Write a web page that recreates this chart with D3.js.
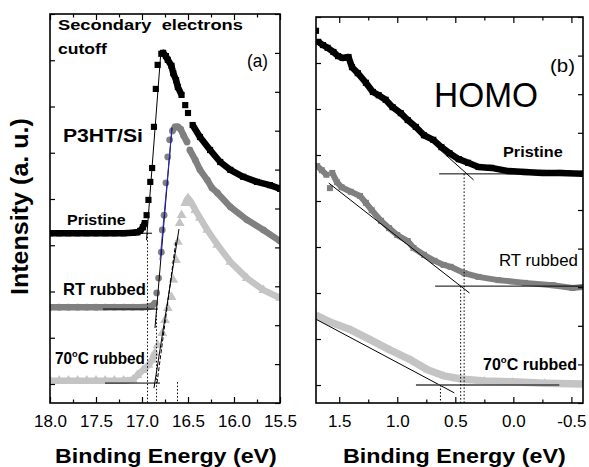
<!DOCTYPE html>
<html>
<head>
<meta charset="utf-8">
<script src="https://cdn.jsdelivr.net/npm/d3@7"></script>
<style>
  body { margin: 0; background: #fff; }
  svg { display: block; font-family: "Liberation Sans", Arial, Helvetica, sans-serif; }
</style>
</head>
<body>
<div id="chart"></div>
<script>
// ---- data: [binding energy (eV), intensity (a.u.)] ----

// panel (a) secondary electron cutoff
var pristineA = [[18.00,3.26],[17.90,3.26],[17.80,3.26],[17.70,3.26],[17.60,3.26],[17.50,3.26],[17.40,3.26],
  [17.30,3.26],[17.20,3.26],[17.10,3.27],[17.05,3.28],[17.02,3.31],[16.99,3.39],[16.97,3.48],[16.95,3.65],
  [16.93,3.98],[16.91,4.37],[16.89,4.67],[16.87,5.56],[16.85,6.38],[16.83,6.90],[16.79,7.14],[16.77,7.16],
  [16.74,7.09],[16.72,7.01],[16.68,6.88],[16.66,6.72],[16.63,6.57],[16.61,6.42],[16.57,6.25],[16.53,6.03],
  [16.50,5.86],[16.45,5.60],[16.37,5.34],[16.26,5.06],[16.15,4.80],[16.04,4.63],[15.90,4.48],[15.75,4.37],
  [15.61,4.30],[15.50,4.22]];

var rtA = [[18.00,1.66],[17.90,1.66],[17.80,1.66],[17.70,1.66],[17.60,1.66],[17.50,1.66],[17.40,1.66],
  [17.30,1.66],[17.20,1.66],[17.10,1.66],[17.00,1.66],[16.93,1.67],[16.89,1.69],[16.86,1.75],[16.84,1.97],
  [16.82,2.29],[16.79,2.85],[16.78,3.33],[16.76,3.65],[16.74,4.35],[16.72,4.91],[16.70,5.28],[16.67,5.47],
  [16.64,5.56],[16.61,5.56],[16.58,5.51],[16.55,5.38],[16.51,5.23],[16.48,5.06],[16.42,4.84],[16.37,4.63],
  [16.29,4.41],[16.24,4.24],[16.18,4.13],[16.04,3.83],[15.86,3.55],[15.68,3.33],[15.50,3.09]];

var hotA = [[18.00,0.07],[17.90,0.07],[17.80,0.07],[17.70,0.07],[17.60,0.07],[17.50,0.07],[17.40,0.07],
  [17.30,0.07],[17.20,0.07],[17.10,0.09],[17.05,0.19],[16.99,0.30],[16.93,0.41],[16.89,0.52],[16.86,0.67],
  [16.83,0.84],[16.78,1.10],[16.75,1.38],[16.72,1.64],[16.68,1.88],[16.66,2.25],[16.63,2.68],[16.61,3.07],
  [16.59,3.48],[16.57,3.65],[16.53,3.91],[16.50,4.02],[16.46,3.91],[16.42,3.76],[16.37,3.59],[16.29,3.33],
  [16.18,3.01],[16.04,2.64],[15.86,2.29],[15.68,2.03],[15.50,1.86]];

// panel (b) HOMO region
var pristineB = [[1.70,7.70],[1.68,7.46],[1.64,7.39],[1.60,7.33],[1.55,7.24],[1.51,7.15],[1.47,7.11],
  [1.42,7.13],[1.39,6.91],[1.34,6.78],[1.27,6.57],[1.21,6.37],[1.16,6.30],[1.10,6.20],[1.04,6.04],
  [0.97,5.91],[0.91,5.76],[0.84,5.61],[0.77,5.43],[0.69,5.33],[0.62,5.17],[0.55,5.04],[0.47,4.91],
  [0.39,4.83],[0.30,4.74],[0.19,4.72],[0.04,4.65],[-0.10,4.63],[-0.25,4.61],[-0.40,4.61],[-0.60,4.59]];

var rtB = [[1.69,4.76],[1.65,4.67],[1.61,4.57],[1.58,4.28],[1.56,4.61],[1.52,4.41],[1.48,4.30],[1.40,4.20],
  [1.32,4.11],[1.27,3.96],[1.22,3.80],[1.14,3.57],[1.07,3.41],[1.00,3.26],[0.91,3.13],[0.86,2.98],
  [0.77,2.83],[0.68,2.70],[0.60,2.61],[0.54,2.57],[0.42,2.43],[0.30,2.35],[0.13,2.28],[-0.10,2.22],
  [-0.34,2.17],[-0.51,2.11],[-0.60,2.13]];

var hotB = [[1.70,1.52],[1.58,1.37],[1.40,1.20],[1.23,0.98],[1.06,0.76],[0.88,0.54],[0.74,0.33],
  [0.60,0.20],[0.45,0.13],[0.25,0.09],[0.01,0.07],[-0.27,0.04],[-0.60,0.02]];

// linear extrapolations (tangent and background lines)
var fitsA = [[[16.951,3.11],[16.793,7.22]], [[17.043,3.26],[16.891,3.26]],
  [[16.859,1.21],[16.674,5.54]], [[17.424,1.62],[16.826,1.62]],
  [[16.870,-0.09],[16.598,3.35]], [[17.402,0.02],[16.804,0.02]]];
var blueFitA = [[16.804,2.68],[16.674,5.54]];
var dashFitA = [[16.837,0.02],[16.630,3.11]];
var onsetA = [[16.940,3.26],[16.842,1.56],[16.614,0.04]];

var fitsB = [[[0.630,5.11],[0.343,4.46]], [[0.639,4.59],[-0.60,4.59]],
  [[1.590,4.39],[0.378,2.00]], [[0.674,2.15],[-0.60,2.15]],
  [[1.70,1.43],[0.509,-0.17]]];
var baseFitB = [[0.839,0.00],[-0.396,0.00]];
var onsetB = [[0.424,4.59],[0.454,2.15],[0.628,0.00]];

var majorA = [18.0,17.5,17.0,16.5,16.0,15.5];
var minorA = [17.75,17.25,16.75,16.25,15.75];
var majorB = [1.5,1.0,0.5,0.0,-0.5];
var minorB = [1.25,0.75,0.25,-0.25];
var leftTicks = [0,1,2,3,4,5,6,7,8];
var rightTicks = [0,1,2,3,4,5,6,7,8,9,10];

// ---- chart ----
var svg = d3.select("#chart").append("svg")
  .attr("width", 589)
  .attr("height", 467);

var xA = d3.scaleLinear().domain([18.0, 15.5]).range([50, 280]);
var yA = d3.scaleLinear().domain([-0.411, 8]).range([403, 14]);
var yAR = d3.scaleLinear().domain([0, 10]).range([403, 14]);

var xB = d3.scaleLinear().domain([1.7, -0.6]).range([316, 583]);
var yB = d3.scaleLinear().domain([-0.391, 8]).range([403, 17]);
var yBR = d3.scaleLinear().domain([0, 10]).range([403, 17]);

var fmt = function(d) { return d.toFixed(1); };

function drawAxes(x, y, yR, major, minor) {
  var x0 = x.range()[0], x1 = x.range()[1];
  var yb = y.range()[0], yt = y.range()[1];
  var g = svg.append("g");

  g.append("g").attr("transform", `translate(0,${yb})`)
    .call(d3.axisBottom(x).tickValues(major).tickSize(-6).tickPadding(12.2).tickFormat(fmt));
  g.append("g").attr("transform", `translate(0,${yb})`)
    .call(d3.axisBottom(x).tickValues(minor).tickSize(-3.5).tickFormat(""));
  g.append("g").attr("transform", `translate(0,${yt})`)
    .call(d3.axisTop(x).tickValues(major).tickSize(-6).tickFormat(""));
  g.append("g").attr("transform", `translate(0,${yt})`)
    .call(d3.axisTop(x).tickValues(minor).tickSize(-3.5).tickFormat(""));
  g.append("g").attr("transform", `translate(${x0},0)`)
    .call(d3.axisLeft(y).tickValues(leftTicks).tickSize(-5).tickFormat(""));
  g.append("g").attr("transform", `translate(${x1},0)`)
    .call(d3.axisRight(yR).tickValues(rightTicks).tickSize(-5).tickFormat(""));

  g.selectAll(".domain").remove();
  g.selectAll(".tick line").attr("stroke", "#000").attr("stroke-width", 1.2);
  g.selectAll(".tick text").attr("font-size", 17).attr("fill", "#000")
    .attr("font-family", "'Liberation Sans', Arial, sans-serif");

  g.append("rect")
    .attr("x", x0).attr("y", yt)
    .attr("width", x1 - x0).attr("height", yb - yt)
    .attr("fill", "none").attr("stroke", "#000").attr("stroke-width", 1.6);
}

function clipFor(id, x, y) {
  svg.append("clipPath").attr("id", id).append("rect")
    .attr("x", x.range()[0]).attr("y", y.range()[1])
    .attr("width", x.range()[1] - x.range()[0])
    .attr("height", y.range()[0] - y.range()[1]);
  return svg.append("g").attr("clip-path", `url(#${id})`);
}

// a series: band of overlapping markers where points are close, markers everywhere
function drawSeries(g, data, x, y, color, symbolType, size, bandW, steep) {
  var pts = data.map(d => [x(d[0]), y(d[1])]);
  var segs = [], cur = [pts[0]];
  for (var i = 1; i < pts.length; i++) {
    var dx = Math.abs(pts[i][0] - pts[i - 1][0]);
    var dy = Math.abs(pts[i][1] - pts[i - 1][1]);
    if (dy <= steep * dx || Math.hypot(dx, dy) < 8) cur.push(pts[i]);
    else { segs.push(cur); cur = [pts[i]]; }
  }
  segs.push(cur);

  g.selectAll(null).data(segs.filter(s => s.length > 1)).enter().append("path")
    .attr("d", d3.line())
    .attr("fill", "none")
    .attr("stroke", color)
    .attr("stroke-width", bandW)
    .attr("stroke-linejoin", "round");

  g.selectAll(null).data(data).enter().append("path")
    .attr("transform", d => `translate(${x(d[0])},${y(d[1])})`)
    .attr("d", d3.symbol().type(symbolType).size(size))
    .attr("fill", color);
}

function drawLine(g, seg, x, y, color, width, dash) {
  g.append("line")
    .attr("x1", x(seg[0][0])).attr("y1", y(seg[0][1]))
    .attr("x2", x(seg[1][0])).attr("y2", y(seg[1][1]))
    .attr("stroke", color)
    .attr("stroke-width", width)
    .attr("stroke-dasharray", dash || null);
}

function drawOnsets(g, list, x, y) {
  list.forEach(function(d) {
    g.append("line")
      .attr("x1", x(d[0])).attr("x2", x(d[0]))
      .attr("y1", y(d[1])).attr("y2", y.range()[0])
      .attr("stroke", "#000").attr("stroke-width", 1)
      .attr("stroke-dasharray", "1.5,2");
  });
}

// panel (a)
var gA = clipFor("clipA", xA, yA);
drawSeries(gA, pristineA, xA, yA, "#000", d3.symbolSquare, 38, 6.5, 2.5);
drawSeries(gA, rtA, xA, yA, "#808080", d3.symbolCircle, 36, 6.5, 2.5);
drawSeries(gA, hotA, xA, yA, "#c4c4c4", d3.symbolTriangle, 42, 6.5, 2.5);
fitsA.forEach(f => drawLine(gA, f, xA, yA, "#000", 1));
drawLine(gA, blueFitA, xA, yA, "#2b2bc8", 1);
drawLine(gA, dashFitA, xA, yA, "#000", 1, "4,2");
drawOnsets(gA, onsetA, xA, yA);

// panel (b)
var gB = clipFor("clipB", xB, yB);
drawSeries(gB, hotB, xB, yB, "#c4c4c4", d3.symbolTriangle, 30, 7.5, 3.5);
drawSeries(gB, rtB, xB, yB, "#808080", d3.symbolSquare, 36, 6, 3.5);
drawSeries(gB, pristineB, xB, yB, "#000", d3.symbolSquare, 38, 6.5, 3.5);
fitsB.forEach(f => drawLine(gB, f, xB, yB, "#000", 1));
drawLine(gB, baseFitB, xB, yB, "#404040", 1.4);
drawOnsets(gB, onsetB, xB, yB);

drawAxes(xA, yA, yAR, majorA, minorA);
drawAxes(xB, yB, yBR, majorB, minorB);

// ---- texts ----
// place a text between x0 and x1 on baseline yb, stretched horizontally to fit
function label(parts, x0, x1, yb, size, weight) {
  var t = svg.append("text")
    .attr("font-size", size)
    .attr("font-weight", weight)
    .attr("fill", "#000");
  parts.forEach(function(p) {
    var s = t.append("tspan").text(p.t);
    if (p.sup) s.attr("font-size", size * 0.6).attr("dy", -size * 0.42);
    if (p.down) s.attr("dy", size * 0.42);
  });
  var w = t.node().getBBox().width;
  t.attr("transform", `translate(${x0},${yb}) scale(${(x1 - x0) / w},1)`);
  return t;
}

label([{t: "Secondary\u00a0\u00a0electrons"}], 58, 243, 30, 15, "bold");
label([{t: "cutoff"}], 58, 108, 54, 15, "bold");
label([{t: "(a)"}], 247, 268, 67, 19, "normal");
label([{t: "P3HT/Si"}], 63, 143, 142, 17.5, "bold");
label([{t: "Pristine"}], 67, 126, 225, 14, "bold");
label([{t: "RT rubbed"}], 63, 146, 295, 16, "bold");
label([{t: "70"}, {t: "o", sup: true}, {t: "C rubbed", down: true}], 55, 145, 364, 16, "bold");

label([{t: "HOMO"}], 434, 538, 107, 35, "normal");
label([{t: "(b)"}], 550, 575, 72, 19, "normal");
label([{t: "Pristine"}], 503, 563, 157, 14, "bold");
label([{t: "RT rubbed"}], 499, 578, 266, 17, "normal");
label([{t: "70"}, {t: "o", sup: true}, {t: "C rubbed", down: true}], 483, 577, 370, 16, "bold");

label([{t: "Binding Energy (eV)"}], 55, 277, 463, 21, "bold");
label([{t: "Binding Energy (eV)"}], 343, 566, 463, 21, "bold");

// y axis title, rotated
var yt = svg.append("text")
  .attr("font-size", 23)
  .attr("font-weight", "bold")
  .text("Intensity (a. u.)");
var yw = yt.node().getComputedTextLength();
yt.attr("transform", `translate(28,295) rotate(-90) scale(${177 / yw},1)`);
</script>
</body>
</html>
